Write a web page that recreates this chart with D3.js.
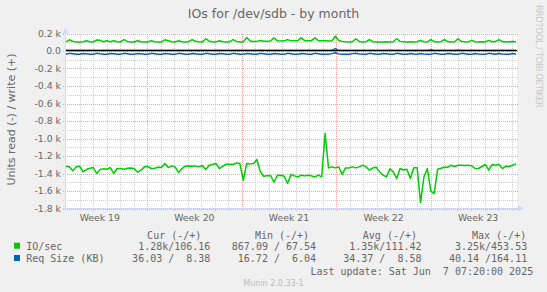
<!DOCTYPE html>
<html><head><meta charset="utf-8">
<script src="https://cdn.jsdelivr.net/npm/d3@7"></script>
<style>
html,body{margin:0;padding:0;background:#f0f0f0;}
svg{display:block;}
text{font-family:"DejaVu Sans",sans-serif;fill:#666;}
.mono{font-family:"DejaVu Sans Mono",monospace;white-space:pre;font-size:10px;}
</style></head><body>
<svg id="c" width="547" height="292"></svg>
<script>
// ---------- data ----------
const title = "IOs for /dev/sdb - by month";
const yAxisTitle = "Units read (-) / write (+)";
const startTime = "2025-05-05T00:00:00Z";
const endTime = "2025-06-07T07:20:00Z";
const yTicks = [200, 0, -200, -400, -600, -800, -1000, -1200, -1400, -1600, -1800];
const yTickLabels = ["0.2 k", "0.0", "-0.2 k", "-0.4 k", "-0.6 k", "-0.8 k", "-1.0 k", "-1.2 k", "-1.4 k", "-1.6 k", "-1.8 k"];
const weekStarts = ["2025-05-04", "2025-05-11", "2025-05-18", "2025-05-25", "2025-06-01"];
const weekLabels = ["Week 19", "Week 20", "Week 21", "Week 22", "Week 23"];

// IO/sec write (+)
const ioWrite = [104,128,110,104,103,106,118,106,104,126,122,106,116,106,118,106,104,130,110,104,
104,118,106,104,104,118,106,104,104,128,118,106,104,118,106,104,106,130,112,106,
104,140,112,106,104,118,106,104,106,130,110,104,104,154,115,108,110,120,112,112,
114,150,116,114,116,130,116,116,118,150,118,116,118,150,118,116,118,114,116,168,
120,110,106,104,106,140,110,104,106,130,106,104,104,104,106,104,106,140,110,106,
104,106,104,106,122,106,104,130,108,104,106,130,108,104,106,140,110,106,104,122,
106,104,106,104,122,106,108,130,108,104,106,108,106];
// IO/sec read (-)
const ioRead = [-1317,-1324,-1370,-1324,-1317,-1381,-1355,-1340,-1332,-1400,-1355,-1347,-1351,-1332,-1400,-1343,-1343,-1351,-1340,-1336,
-1343,-1385,-1362,-1324,-1320,-1343,-1340,-1328,-1332,-1286,-1332,-1313,-1324,-1390,-1343,-1317,-1313,-1317,-1313,-1324,
-1309,-1355,-1305,-1297,-1286,-1343,-1317,-1294,-1294,-1297,-1279,-1286,-1477,-1286,-1290,-1286,-1240,-1381,-1431,-1427,
-1423,-1500,-1423,-1419,-1431,-1514,-1410,-1427,-1439,-1419,-1427,-1419,-1427,-1439,-1419,-1439,-943,-1336,-1324,-1336,
-1324,-1411,-1336,-1336,-1324,-1336,-1324,-1305,-1324,-1362,-1336,-1328,-1381,-1419,-1439,-1347,-1381,-1457,-1343,-1360,
-1351,-1457,-1335,-1335,-1731,-1440,-1343,-1600,-1629,-1351,-1340,-1328,-1328,-1305,-1320,-1305,-1305,-1309,-1305,-1313,
-1343,-1343,-1320,-1297,-1362,-1297,-1305,-1297,-1343,-1317,-1320,-1305,-1290];
// Req Size (KB) write (+)
const reqWrite = [8,9,8,8,8,9,8,8,8,9,8,8,8,9,8,8,8,9,8,8,
8,9,8,8,8,9,8,8,8,9,8,8,8,9,8,8,8,9,8,8,
8,9,8,8,8,9,8,8,8,9,8,8,8,9,8,8,8,9,8,8,
8,9,8,8,8,9,8,8,8,9,8,8,8,9,8,8,8,9,8,28,
8,8,8,8,9,8,8,8,9,8,8,8,9,8,8,8,9,8,8,8,
9,8,8,8,9,8,8,14,8,8,8,9,8,8,8,12,8,8,8,9,
8,8,8,9,8,8,8,9,8,8,8,9,8];
// Req Size (KB) read (-)
const reqRead = [-37,-27,-31,-36,-37,-28,-31,-36,-37,-27,-32,-36,-37,-28,-31,-37,-37,-27,-31,-36,
-37,-28,-32,-36,-37,-27,-31,-36,-37,-28,-31,-37,-37,-27,-31,-36,-37,-28,-32,-36,
-37,-27,-31,-36,-37,-28,-31,-37,-37,-27,-31,-36,-37,-28,-32,-36,-37,-27,-31,-36,
-37,-28,-31,-37,-37,-27,-31,-36,-37,-28,-32,-36,-37,-27,-31,-36,-37,-36,-30,-20,
-33,-37,-37,-36,-30,-27,-34,-37,-36,-27,-32,-37,-36,-28,-32,-37,-36,-27,-32,-37,
-36,-28,-33,-37,-28,-33,-37,-36,-27,-32,-37,-36,-28,-32,-37,-36,-27,-32,-37,-36,
-28,-33,-37,-36,-27,-32,-37,-28,-33,-37,-36,-28,-36];

const seriesNames = ["IO/sec", "Req Size (KB)"];
const seriesColors = ["#00cc00", "#0066b3"];
const legendHeaders = ["Cur (-/+)", "Min (-/+)", "Avg (-/+)", "Max (-/+)"];
const curVals = ["1.28k/106.16", "36.03 /  8.38"];
const minVals = ["867.09 / 67.54", "16.72 /  6.04"];
const avgVals = ["1.35k/111.42", "34.37 /  8.58"];
const maxVals = ["3.25k/453.53", "40.14 /164.11"];
const lastUpdate = "Last update: Sat Jun  7 07:20:00 2025";
const version = "Munin 2.0.33-1";
const watermark = "RRDTOOL / TOBI OETIKER";

// ---------- drawing ----------
const svg = d3.select("#c");
const L = 66, R = 516, T = 33.5, B = 208.5;
const t0 = new Date(startTime), t1 = new Date(endTime);
const x = d3.scaleUtc().domain([t0, t1]).range([L, R]);
const y = d3.scaleLinear().domain([-1800, 200]).range([B, T]);

svg.append("rect").attr("width", 547).attr("height", 292).attr("fill", "#f0f0f0");
svg.append("rect").attr("x", L).attr("y", T).attr("width", R - L + 1).attr("height", B - T).attr("fill", "#fff");

const grid = svg.append("g").attr("shape-rendering", "crispEdges");
// minor horizontal
y.ticks(20).forEach(v => {
  grid.append("line").attr("x1", L - 3).attr("x2", R + 2)
    .attr("y1", Math.round(y(v)) + 0.5).attr("y2", Math.round(y(v)) + 0.5)
    .attr("stroke", "#cfcfcf").attr("stroke-dasharray", "1,1");
});
// minor vertical (days)
d3.utcDay.range(d3.utcDay.offset(t0, 1), t1).forEach(d => {
  const xx = Math.round(x(d)) + 0.5;
  grid.append("line").attr("x1", xx).attr("x2", xx).attr("y1", T).attr("y2", B + 2)
    .attr("stroke", "#cfcfcf").attr("stroke-dasharray", "1,1");
});
// major horizontal
yTicks.forEach(v => {
  grid.append("line").attr("x1", L - 3).attr("x2", R + 2)
    .attr("y1", Math.round(y(v)) + 0.5).attr("y2", Math.round(y(v)) + 0.5)
    .attr("stroke", "#f4a0a0").attr("stroke-dasharray", "1,1");
});
// major vertical (weeks)
weekStarts.forEach(s => {
  const d = new Date(s + "T00:00:00Z");
  if (d <= t0) return;
  const xx = Math.round(x(d)) + 0.5;
  grid.append("line").attr("x1", xx).attr("x2", xx).attr("y1", T).attr("y2", B + 2)
    .attr("stroke", "#f4a0a0").attr("stroke-dasharray", "1,1");
});

function series(vals) {
  const n = vals.length;
  return vals.map((v, i) => ({t: new Date(+t0 + i * (t1 - t0) / (n - 1)), v}));
}
const line = d3.line().x(d => x(d.t)).y(d => y(d.v));
function draw(vals, color) {
  svg.append("path").datum(series(vals)).attr("d", line)
    .attr("fill", "none").attr("stroke", color).attr("stroke-width", 1.5)
    .attr("stroke-linejoin", "round");
}
draw(reqWrite, seriesColors[1]);
draw(reqRead, seriesColors[1]);
draw(ioWrite, seriesColors[0]);
draw(ioRead, seriesColors[0]);
// zero line
svg.append("line").attr("x1", L).attr("x2", R + 1).attr("y1", y(0) - 0.3).attr("y2", y(0) - 0.3)
  .attr("stroke", "#000").attr("stroke-width", 1.3);

// axes
const ax = svg.append("g").attr("shape-rendering", "crispEdges");
ax.append("line").attr("x1", 65.5).attr("x2", 65.5).attr("y1", B + 2).attr("y2", 31).attr("stroke", "#cfd6f8");
ax.append("line").attr("x1", 63).attr("x2", 520).attr("y1", B).attr("y2", B).attr("stroke", "#cfd6f8");
svg.append("path").attr("d", `M62.5,33.5L68.5,33.5L65.5,28Z`).attr("fill", "#cfd6f8");
svg.append("path").attr("d", `M518,205L518,211.5L523.5,208.3Z`).attr("fill", "#cfd6f8");

// y labels
yTicks.forEach((v, i) => {
  svg.append("text").attr("x", 61).attr("y", y(v) + 3.4).attr("text-anchor", "end")
    .attr("font-size", "9.3px").text(yTickLabels[i]);
});
// x labels
weekStarts.forEach((s, i) => {
  const mid = d3.utcHour.offset(new Date(s + "T00:00:00Z"), 84);
  svg.append("text").attr("x", x(mid)).attr("y", 221).attr("text-anchor", "middle")
    .attr("font-size", "9.3px").text(weekLabels[i]);
});

// title
svg.append("text").attr("x", 273.5).attr("y", 18).attr("text-anchor", "middle")
  .attr("font-size", "12.5px").text(title);
// y axis title
svg.append("text").attr("transform", "translate(14.5,119.5) rotate(-90)").attr("text-anchor", "middle")
  .attr("font-size", "11px").text(yAxisTitle);
// watermark
svg.append("text").attr("transform", "translate(535.5,5) rotate(90)").attr("text-anchor", "start")
  .attr("font-size", "8.5px").attr("textLength", 103).attr("lengthAdjust", "spacing")
  .style("fill", "#c8c8c8").text(watermark);

// legend
const hdrX = [201.3, 309.1, 417, 526.2];
legendHeaders.forEach((h, i) => {
  svg.append("text").attr("class", "mono").attr("x", hdrX[i]).attr("y", 239).attr("text-anchor", "end").text(h);
});
const colX = [210.4, 316.1, 421.5, 527.2];
const rowY = [250, 262.3];
seriesNames.forEach((nm, r) => {
  svg.append("rect").attr("x", 14).attr("y", rowY[r] - 7.3).attr("width", 6).attr("height", 6).attr("fill", seriesColors[r]);
  svg.append("text").attr("class", "mono").attr("x", 26.2).attr("y", rowY[r]).text(nm);
  [curVals, minVals, avgVals, maxVals].forEach((arr, c) => {
    svg.append("text").attr("class", "mono").attr("x", colX[c]).attr("y", rowY[r]).attr("text-anchor", "end").text(arr[r]);
  });
});
svg.append("text").attr("class", "mono").attr("x", 533.2).attr("y", 274.5).attr("text-anchor", "end").text(lastUpdate);
svg.append("text").attr("x", 273.5).attr("y", 286).attr("text-anchor", "middle").attr("font-size", "8px")
  .style("fill", "#bbb").text(version);
</script>
</body></html>
